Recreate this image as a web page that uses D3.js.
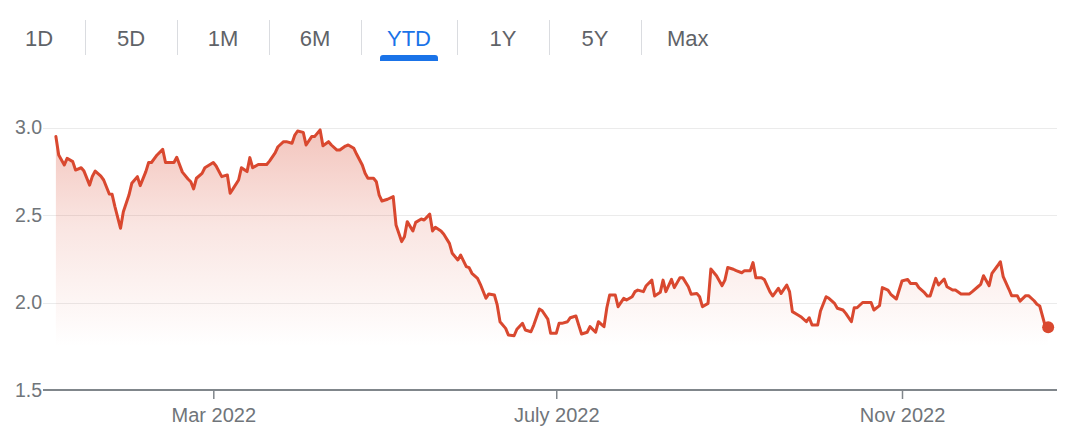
<!DOCTYPE html>
<html>
<head>
<meta charset="utf-8">
<script src="https://cdn.jsdelivr.net/npm/d3@7"></script>
<style>
  body { margin: 0; background: #ffffff; }
  svg { display: block; font-family: Arial, "Liberation Sans", Helvetica, sans-serif; }
</style>
</head>
<body>
<svg id="chart" width="1066" height="434"></svg>
<script>
// ---------------- DATA ----------------
const tabLabels = ["1D", "5D", "1M", "6M", "YTD", "1Y", "5Y", "Max"];
const selectedTab = "YTD";

const yTickValues = [1.5, 2.0, 2.5, 3.0];
const yTickLabels = ["1.5", "2.0", "2.5", "3.0"];

const xTickDates = ["2022-03-01", "2022-07-01", "2022-11-01"];
const xTickLabels = ["Mar 2022", "July 2022", "Nov 2022"];

// days since 1 Jan 2022 for each observation
const days = [
  3, 4, 6, 7, 9, 10, 12, 13, 15, 16, 17, 19, 20, 22, 23, 24, 26, 27, 29, 30,
  32, 33, 35, 36, 37, 39, 41, 42, 44, 45, 46, 48, 50, 51, 52, 53, 55, 56, 58, 59,
  60, 62, 64, 65, 66, 68, 69, 71, 72, 73, 75, 76, 78, 79, 81, 82, 84, 85, 87, 88,
  89, 91, 92, 94, 95, 97, 98, 100, 101, 103, 104, 106, 107, 109, 110, 112, 113, 114, 116, 117,
  118, 119, 121, 123, 124, 126, 127, 128, 130, 131, 133, 134, 136, 137, 138, 140, 141, 143, 144, 146,
  147, 149, 150, 151, 153, 154, 156, 157, 159, 160, 161, 163, 164, 166, 167, 169, 170, 172, 173, 175,
  176, 178, 179, 181, 182, 183, 185, 186, 188, 189, 190, 192, 193, 195, 196, 198, 199, 200, 202, 203,
  205, 206, 208, 209, 210, 212, 213, 215, 216, 218, 219, 220, 222, 223, 225, 226, 228, 229, 231, 232,
  233, 235, 236, 238, 240, 241, 242, 244, 245, 247, 248, 250, 251, 252, 254, 255, 257, 258, 260, 261,
  263, 264, 265, 267, 268, 270, 271, 272, 274, 275, 277, 278, 280, 281, 283, 284, 286, 287, 288, 290,
  291, 293, 294, 296, 297, 299, 300, 302, 303, 304, 306, 307, 309, 310, 312, 313, 314, 316, 317, 319,
  320, 322, 323, 325, 326, 328, 329, 331, 332, 333, 335, 336, 338, 339, 340, 342, 343, 345, 346, 348,
  349, 351, 352, 353, 355, 356
];

const values = [
  2.948, 2.843, 2.786, 2.824, 2.805, 2.757, 2.770, 2.751, 2.671, 2.722, 2.751, 2.722, 2.700, 2.620, 2.618, 2.548, 2.424, 2.519, 2.614, 2.681,
  2.719, 2.668, 2.748, 2.800, 2.800, 2.843, 2.875, 2.800, 2.800, 2.800, 2.830, 2.745, 2.706, 2.690, 2.649, 2.710, 2.738, 2.770, 2.790, 2.800,
  2.780, 2.719, 2.729, 2.624, 2.649, 2.700, 2.770, 2.748, 2.828, 2.770, 2.789, 2.789, 2.789, 2.808, 2.855, 2.890, 2.919, 2.919, 2.910, 2.957,
  2.980, 2.972, 2.900, 2.948, 2.948, 2.986, 2.896, 2.919, 2.900, 2.871, 2.871, 2.894, 2.900, 2.881, 2.847, 2.786, 2.738, 2.710, 2.710, 2.690,
  2.614, 2.580, 2.590, 2.605, 2.443, 2.348, 2.376, 2.462, 2.409, 2.458, 2.477, 2.471, 2.505, 2.409, 2.430, 2.409, 2.390, 2.338, 2.281, 2.243,
  2.271, 2.205, 2.199, 2.167, 2.138, 2.104, 2.024, 2.049, 2.043, 1.986, 1.890, 1.852, 1.814, 1.810, 1.847, 1.881, 1.843, 1.833, 1.871, 1.963,
  1.953, 1.905, 1.824, 1.824, 1.881, 1.881, 1.890, 1.913, 1.923, 1.871, 1.820, 1.830, 1.862, 1.830, 1.890, 1.862, 1.970, 2.043, 2.043, 1.976,
  2.024, 2.014, 2.033, 2.062, 2.071, 2.062, 2.096, 2.128, 2.037, 2.058, 2.128, 2.062, 2.132, 2.085, 2.142, 2.142, 2.090, 2.047, 2.052, 2.033,
  1.976, 1.995, 2.191, 2.153, 2.096, 2.128, 2.200, 2.190, 2.182, 2.170, 2.182, 2.182, 2.228, 2.142, 2.142, 2.132, 2.062, 2.037, 2.081, 2.052,
  2.100, 2.062, 1.948, 1.929, 1.919, 1.890, 1.913, 1.871, 1.871, 1.951, 2.033, 2.024, 1.995, 1.967, 1.957, 1.938, 1.890, 1.970, 1.970, 2.000,
  2.000, 2.000, 1.957, 1.982, 2.085, 2.071, 2.047, 2.020, 2.071, 2.123, 2.132, 2.109, 2.109, 2.085, 2.056, 2.037, 2.037, 2.138, 2.100, 2.134,
  2.090, 2.071, 2.071, 2.049, 2.049, 2.049, 2.062, 2.090, 2.104, 2.153, 2.096, 2.167, 2.210, 2.233, 2.148, 2.077, 2.039, 2.039, 2.008, 2.039,
  2.039, 2.010, 1.990, 1.980, 1.862, 1.858
];

// ---------------- CHART ----------------
const svg = d3.select("#chart");
const lineColor = "#d9482f";
const textGray = "#70757a";
const tabGray = "#5f6368";
const blue = "#1a73e8";

const startOfYear = new Date(Date.UTC(2022, 0, 1));
const data = days.map((d, i) => ({ date: d3.utcDay.offset(startOfYear, d), value: values[i] }));

const plotLeft = 43, plotRight = 1057;
const parse = d3.utcParse("%Y-%m-%d");

const x = d3.scaleUtc()
  .domain([parse(xTickDates[0]), parse(xTickDates[2])])
  .range([213.3, 902]);

const y = d3.scaleLinear()
  .domain([1.5, 3.0])
  .range([390, 127.5]);

// ---- Tabs ----
const tabG = svg.append("g");
let cursor = -7;
const tabInfo = [];
tabLabels.forEach((label) => {
  const t = tabG.append("text")
    .attr("font-size", 22)
    .attr("y", 46)
    .attr("text-anchor", "middle")
    .attr("fill", label === selectedTab ? blue : tabGray)
    .text(label);
  const w = t.node().getComputedTextLength();
  const tabW = Math.max(92, w + 52);
  const cx = cursor + tabW / 2;
  t.attr("x", cx);
  tabInfo.push({ label, start: cursor, end: cursor + tabW, cx, w });
  cursor += tabW;
});
tabInfo.slice(0, -1).forEach(t => {
  tabG.append("line")
    .attr("x1", Math.round(t.end) + 0.5).attr("x2", Math.round(t.end) + 0.5)
    .attr("y1", 20).attr("y2", 55)
    .attr("stroke", "#dadce0").attr("stroke-width", 1);
});
const sel = tabInfo.find(t => t.label === selectedTab);
{
  const uw = sel.w + 14, ux = sel.cx - uw / 2, uy = 55, uh = 6, r = 3;
  tabG.append("path")
    .attr("d", `M${ux},${uy + uh} L${ux},${uy + r} Q${ux},${uy} ${ux + r},${uy} L${ux + uw - r},${uy} Q${ux + uw},${uy} ${ux + uw},${uy + r} L${ux + uw},${uy + uh} Z`)
    .attr("fill", blue);
}

// ---- Gradient ----
const defs = svg.append("defs");
const grad = defs.append("linearGradient")
  .attr("id", "areaGrad")
  .attr("gradientUnits", "userSpaceOnUse")
  .attr("x1", 0).attr("x2", 0)
  .attr("y1", y(3.0)).attr("y2", y(1.75));
grad.append("stop").attr("offset", 0).attr("stop-color", lineColor).attr("stop-opacity", 0.32);
grad.append("stop").attr("offset", 0.45).attr("stop-color", lineColor).attr("stop-opacity", 0.14);
grad.append("stop").attr("offset", 1).attr("stop-color", lineColor).attr("stop-opacity", 0.0);

// ---- Gridlines ----
svg.append("g")
  .selectAll("line")
  .data(yTickValues.filter(v => v !== 1.5))
  .join("line")
  .attr("x1", plotLeft).attr("x2", plotRight)
  .attr("y1", d => Math.round(y(d)) + 0.5).attr("y2", d => Math.round(y(d)) + 0.5)
  .attr("stroke", "#ebebeb").attr("stroke-width", 1);

// ---- Area ----
const area = d3.area()
  .x(d => x(d.date))
  .y0(y(1.5))
  .y1(d => y(d.value));
svg.append("path")
  .datum(data)
  .attr("d", area)
  .attr("fill", "url(#areaGrad)");

// ---- Y axis labels ----
const yAxis = d3.axisLeft(y)
  .tickValues(yTickValues)
  .tickFormat((d, i) => yTickLabels[i])
  .tickSize(0)
  .tickPadding(0);
const yG = svg.append("g").attr("transform", `translate(42,0)`).call(yAxis);
yG.select(".domain").remove();
yG.selectAll("text")
  .attr("font-size", 19.5)
  .attr("font-family", 'Arial, "Liberation Sans", Helvetica, sans-serif')
  .attr("fill", textGray);

// ---- X axis ----
const xAxis = d3.axisBottom(x)
  .tickValues(xTickDates.map(parse))
  .tickFormat((d, i) => xTickLabels[i])
  .tickSize(9)
  .tickSizeOuter(0)
  .tickPadding(9);
const xG = svg.append("g").attr("transform", `translate(0,${y(1.5)})`).call(xAxis);
xG.select(".domain").remove();
xG.append("line")
  .attr("x1", plotLeft).attr("x2", plotRight)
  .attr("y1", 0).attr("y2", 0)
  .attr("stroke", "#80868b").attr("stroke-width", 2);
xG.selectAll(".tick line").attr("stroke", "#80868b").attr("stroke-width", 1.5);
xG.selectAll(".tick text")
  .attr("font-size", 20)
  .attr("font-family", 'Arial, "Liberation Sans", Helvetica, sans-serif')
  .attr("fill", textGray);

// ---- Line ----
const line = d3.line()
  .x(d => x(d.date))
  .y(d => y(d.value));
svg.append("path")
  .datum(data)
  .attr("d", line)
  .attr("fill", "none")
  .attr("stroke", lineColor)
  .attr("stroke-width", 3)
  .attr("stroke-linejoin", "round")
  .attr("stroke-linecap", "round");

// ---- End dot ----
const last = data[data.length - 1];
svg.append("circle")
  .attr("cx", x(last.date))
  .attr("cy", y(last.value))
  .attr("r", 6)
  .attr("fill", lineColor);
</script>
</body>
</html>
